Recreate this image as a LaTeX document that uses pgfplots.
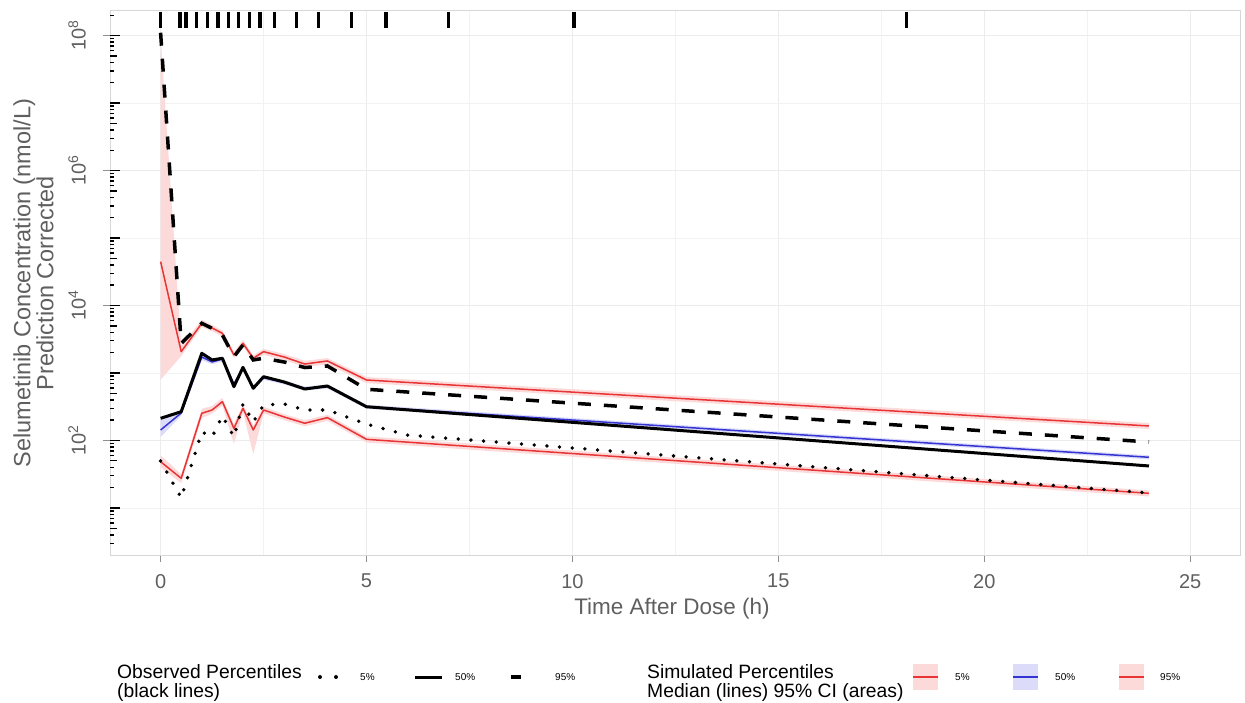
\documentclass[border=0pt]{standalone}
\usepackage{fontspec}
\setmainfont{Liberation Sans}
\usepackage{pgfplots}
\pgfplotsset{compat=1.18}
\definecolor{simred}{RGB}{232,52,52}
\definecolor{simblue}{RGB}{52,52,210}
\definecolor{pinkci}{RGB}{252,218,218}
\definecolor{blueci}{RGB}{220,220,250}
\definecolor{axgray}{RGB}{95,95,95}
\definecolor{gridc}{RGB}{236,236,236}
\definecolor{bordc}{RGB}{215,215,215}
\begin{document}
\begin{tikzpicture}[x=1pt,y=1pt]
\useasboundingbox (0,0) rectangle (1245,702);
\begin{axis}[
  at={(110pt,147pt)}, anchor=south west,
  width=1130pt, height=544pt, scale only axis,
  xmin=-1.229, xmax=26.21,
  ymode=log, ymin=2.01, ymax=2.31e8,
  xtick={0,5,10,15,20,25}, xticklabels={0,5,10,15,20,25},
  minor xtick={2.5,7.5,12.5,17.5,22.5},
  ytick={1e2,1e4,1e6,1e8},
  yticklabels={10\textsuperscript{2},10\textsuperscript{4},10\textsuperscript{6},10\textsuperscript{8}},
  minor ytick={1e1,1e3,1e5,1e7},
  grid=both,
  major grid style={gridc, line width=1pt},
  minor grid style={gridc!70!white, line width=0.8pt},
  axis line style={bordc, line width=1pt},
  tick align=outside, major tick length=7pt, minor tick length=0pt,
  tick style={axgray!70!white, line width=1pt},
  xtick pos=left, ytick pos=left,
  tick label style={font=\fontsize{20}{20}\selectfont, text=axgray},
  xticklabel style={anchor=north, inner sep=0pt},
  xticklabel shift=12pt,
  yticklabel style={rotate=90, anchor=south, inner sep=0pt},
  yticklabel shift=17pt,
]
% CI areas
\addplot[fill=pinkci, draw=none] coordinates {(0,1e8) (0.5,2512) (1,6166) (1.25,5129) (1.5,4266) (1.78,2042) (2,3090) (2.25,1820) (2.5,2291) (3,1905) (3.5,1514) (4.05,1660) (5,871) (24,182)
 (24,148) (5,708) (4.05,1349) (3.5,1230) (3,1549) (2.5,1862) (2.25,1479) (2,2455) (1.78,1660) (1.5,3467) (1.25,4169) (1,4786) (0.5,1778) (0,794)} -- cycle;
\addplot[fill=pinkci, draw=none] coordinates {(0,60.3) (0.5,31.6) (1,295) (1.25,324) (1.5,427) (1.78,174) (2,339) (2.25,166) (2.5,316) (3,245) (3.5,200) (4.05,240) (5,115) (24,18.2)
 (24,14.8) (5,93.3) (4.05,195) (3.5,162) (3,200) (2.5,251) (2.25,63.1) (2,263) (1.78,89.1) (1.5,331) (1.25,251) (1,214) (0.5,23.4) (0,39.8)} -- cycle;
\addplot[fill=blueci, draw=none] coordinates {(0,214) (0.5,282) (1,1905) (1.25,1585) (1.5,1738) (1.78,741) (2,1259) (2.25,661) (2.5,912) (3,776) (3.5,631) (4.05,676) (5,339) (24,60.3)
 (24,52.5) (5,295) (4.05,589) (3.5,550) (3,676) (2.5,794) (2.25,575) (2,1096) (1.78,631) (1.5,1479) (1.25,1349) (1,1549) (0.5,234) (0,112)} -- cycle;
% simulated medians
\addplot[simred, line width=1.5pt, line join=round] coordinates {(0,44700) (0.5,2070) (1,5445) (1.25,4645) (1.5,3873) (1.78,1849) (2,2754) (2.25,1652) (2.5,2070) (3,1726) (3.5,1358) (4.05,1507) (5,787) (24,164)};
\addplot[simred, line width=1.5pt, line join=round] coordinates {(0,48.5) (0.5,27.5) (1,253) (1.25,283) (1.5,376) (1.78,151) (2,300) (2.25,143) (2.5,283) (3,223) (3.5,180) (4.05,218) (5,104) (24,16.5)};
\addplot[simblue, line width=1.5pt, line join=round] coordinates {(0,143) (0.5,255) (1,1726) (1.25,1455) (1.5,1611) (1.78,687) (2,1175) (2.25,617) (2.5,851) (3,724) (3.5,589) (4.05,631) (5,316) (24,56.4)};
% observed percentiles
\addplot[black, line width=3.8pt, line cap=round, dash pattern=on 0pt off 12.7pt] coordinates {(0,49.7) (0.5,14.1) (1,134) (1.25,113) (1.5,231) (1.78,113) (2,347) (2.25,188) (2.5,336) (3,348) (3.5,283) (4.05,283) (5,175) (6,120) (24,16.7)};
\addplot[black, line width=3pt, line join=round] coordinates {(0,213) (0.5,267) (1,1959) (1.25,1560) (1.5,1652) (1.78,627) (2,1213) (2.25,593) (2.5,881) (3,736) (3.5,579) (4.05,641) (5,316) (24,41.9)};
\addplot[black, line width=3.5pt, dash pattern=on 13pt off 13pt] coordinates {(0,1.1e8) (0.5,2754) (1,5445) (1.25,4592) (1.5,3656) (1.78,1742) (2,2600) (2.25,1560) (2.5,1652) (3,1455) (3.5,1205) (4.05,1271) (5,574) (24,95)};
% bin separators rug
\addplot[only marks, mark=|, mark size=8.3pt, mark options={line width=3.3pt, black}] coordinates {(0,1.7e8) (0.47,1.7e8) (0.62,1.7e8) (0.876,1.7e8) (1.134,1.7e8) (1.394,1.7e8) (1.654,1.7e8) (1.897,1.7e8) (2.153,1.7e8) (2.414,1.7e8) (2.771,1.7e8) (3.305,1.7e8) (3.83,1.7e8) (4.64,1.7e8) (5.47,1.7e8) (6.99,1.7e8) (10.04,1.7e8) (18.12,1.7e8)};
\end{axis}
% log ticks annotation
\begin{axis}[
  at={(110pt,147pt)}, anchor=south west,
  width=1130pt, height=544pt, scale only axis,
  xmin=-1.229, xmax=26.21,
  ymode=log, ymin=2.01, ymax=2.31e8,
  xtick=\empty, ytick pos=left,
  axis line style={draw=none},
  ytick={1e0,1e1,1e2,1e3,1e4,1e5,1e6,1e7,1e8}, yticklabels={},
  minor ytick={2e0,3e0,4e0,6e0,7e0,8e0,9e0,2e1,3e1,4e1,6e1,7e1,8e1,9e1,2e2,3e2,4e2,6e2,7e2,8e2,9e2,2e3,3e3,4e3,6e3,7e3,8e3,9e3,2e4,3e4,4e4,6e4,7e4,8e4,9e4,2e5,3e5,4e5,6e5,7e5,8e5,9e5,2e6,3e6,4e6,6e6,7e6,8e6,9e6,2e7,3e7,4e7,6e7,7e7,8e7,9e7,2e8},
  extra y ticks={5e0,5e1,5e2,5e3,5e4,5e5,5e6,5e7}, extra y tick labels={},
  extra y tick style={major tick length=6.5pt},
  tick align=inside, major tick length=10pt, minor tick length=4pt,
  tick style={black, line width=1.4pt},
]
\addplot[draw=none] coordinates {(0,10)};
\end{axis}
% axis titles
\node[text=axgray, font=\fontsize{22.5}{22.5}\selectfont] at (672,93) {Time After Dose (h)};
\node[text=axgray, font=\fontsize{23.5}{23}\selectfont, rotate=90, align=center] at (33.5,419) {Selumetinib Concentration (nmol/L)\\Prediction Corrected};
% legend: observed
\node[anchor=west, align=left, inner sep=0pt, font=\fontsize{19.3}{18.5}\selectfont] at (117,19) {Observed Percentiles\\(black lines)};
\fill[black] (320,25) circle (2pt); \fill[black] (336,25) circle (2pt);
\node[anchor=west, inner sep=0pt, font=\fontsize{10}{10}\selectfont] at (360,25) {5\%};
\draw[black, line width=3pt] (415,25) -- (442,25);
\node[anchor=west, inner sep=0pt, font=\fontsize{10}{10}\selectfont] at (455,25) {50\%};
\draw[black, line width=3.5pt] (511,25) -- (521,25);
\node[anchor=west, inner sep=0pt, font=\fontsize{10}{10}\selectfont] at (555,25) {95\%};
% legend: simulated
\node[anchor=west, align=left, inner sep=0pt, font=\fontsize{19.3}{18.5}\selectfont] at (647,19) {Simulated Percentiles\\Median (lines) 95\% CI (areas)};
\fill[pinkci] (913,12) rectangle (938,38); \draw[simred, line width=1.5pt] (913,25) -- (938,25);
\node[anchor=west, inner sep=0pt, font=\fontsize{10}{10}\selectfont] at (955,25) {5\%};
\fill[blueci] (1013,12) rectangle (1038,38); \draw[simblue, line width=1.5pt] (1013,25) -- (1038,25);
\node[anchor=west, inner sep=0pt, font=\fontsize{10}{10}\selectfont] at (1055,25) {50\%};
\fill[pinkci] (1119,12) rectangle (1144,38); \draw[simred, line width=1.5pt] (1119,25) -- (1144,25);
\node[anchor=west, inner sep=0pt, font=\fontsize{10}{10}\selectfont] at (1160,25) {95\%};
\end{tikzpicture}
\end{document}
